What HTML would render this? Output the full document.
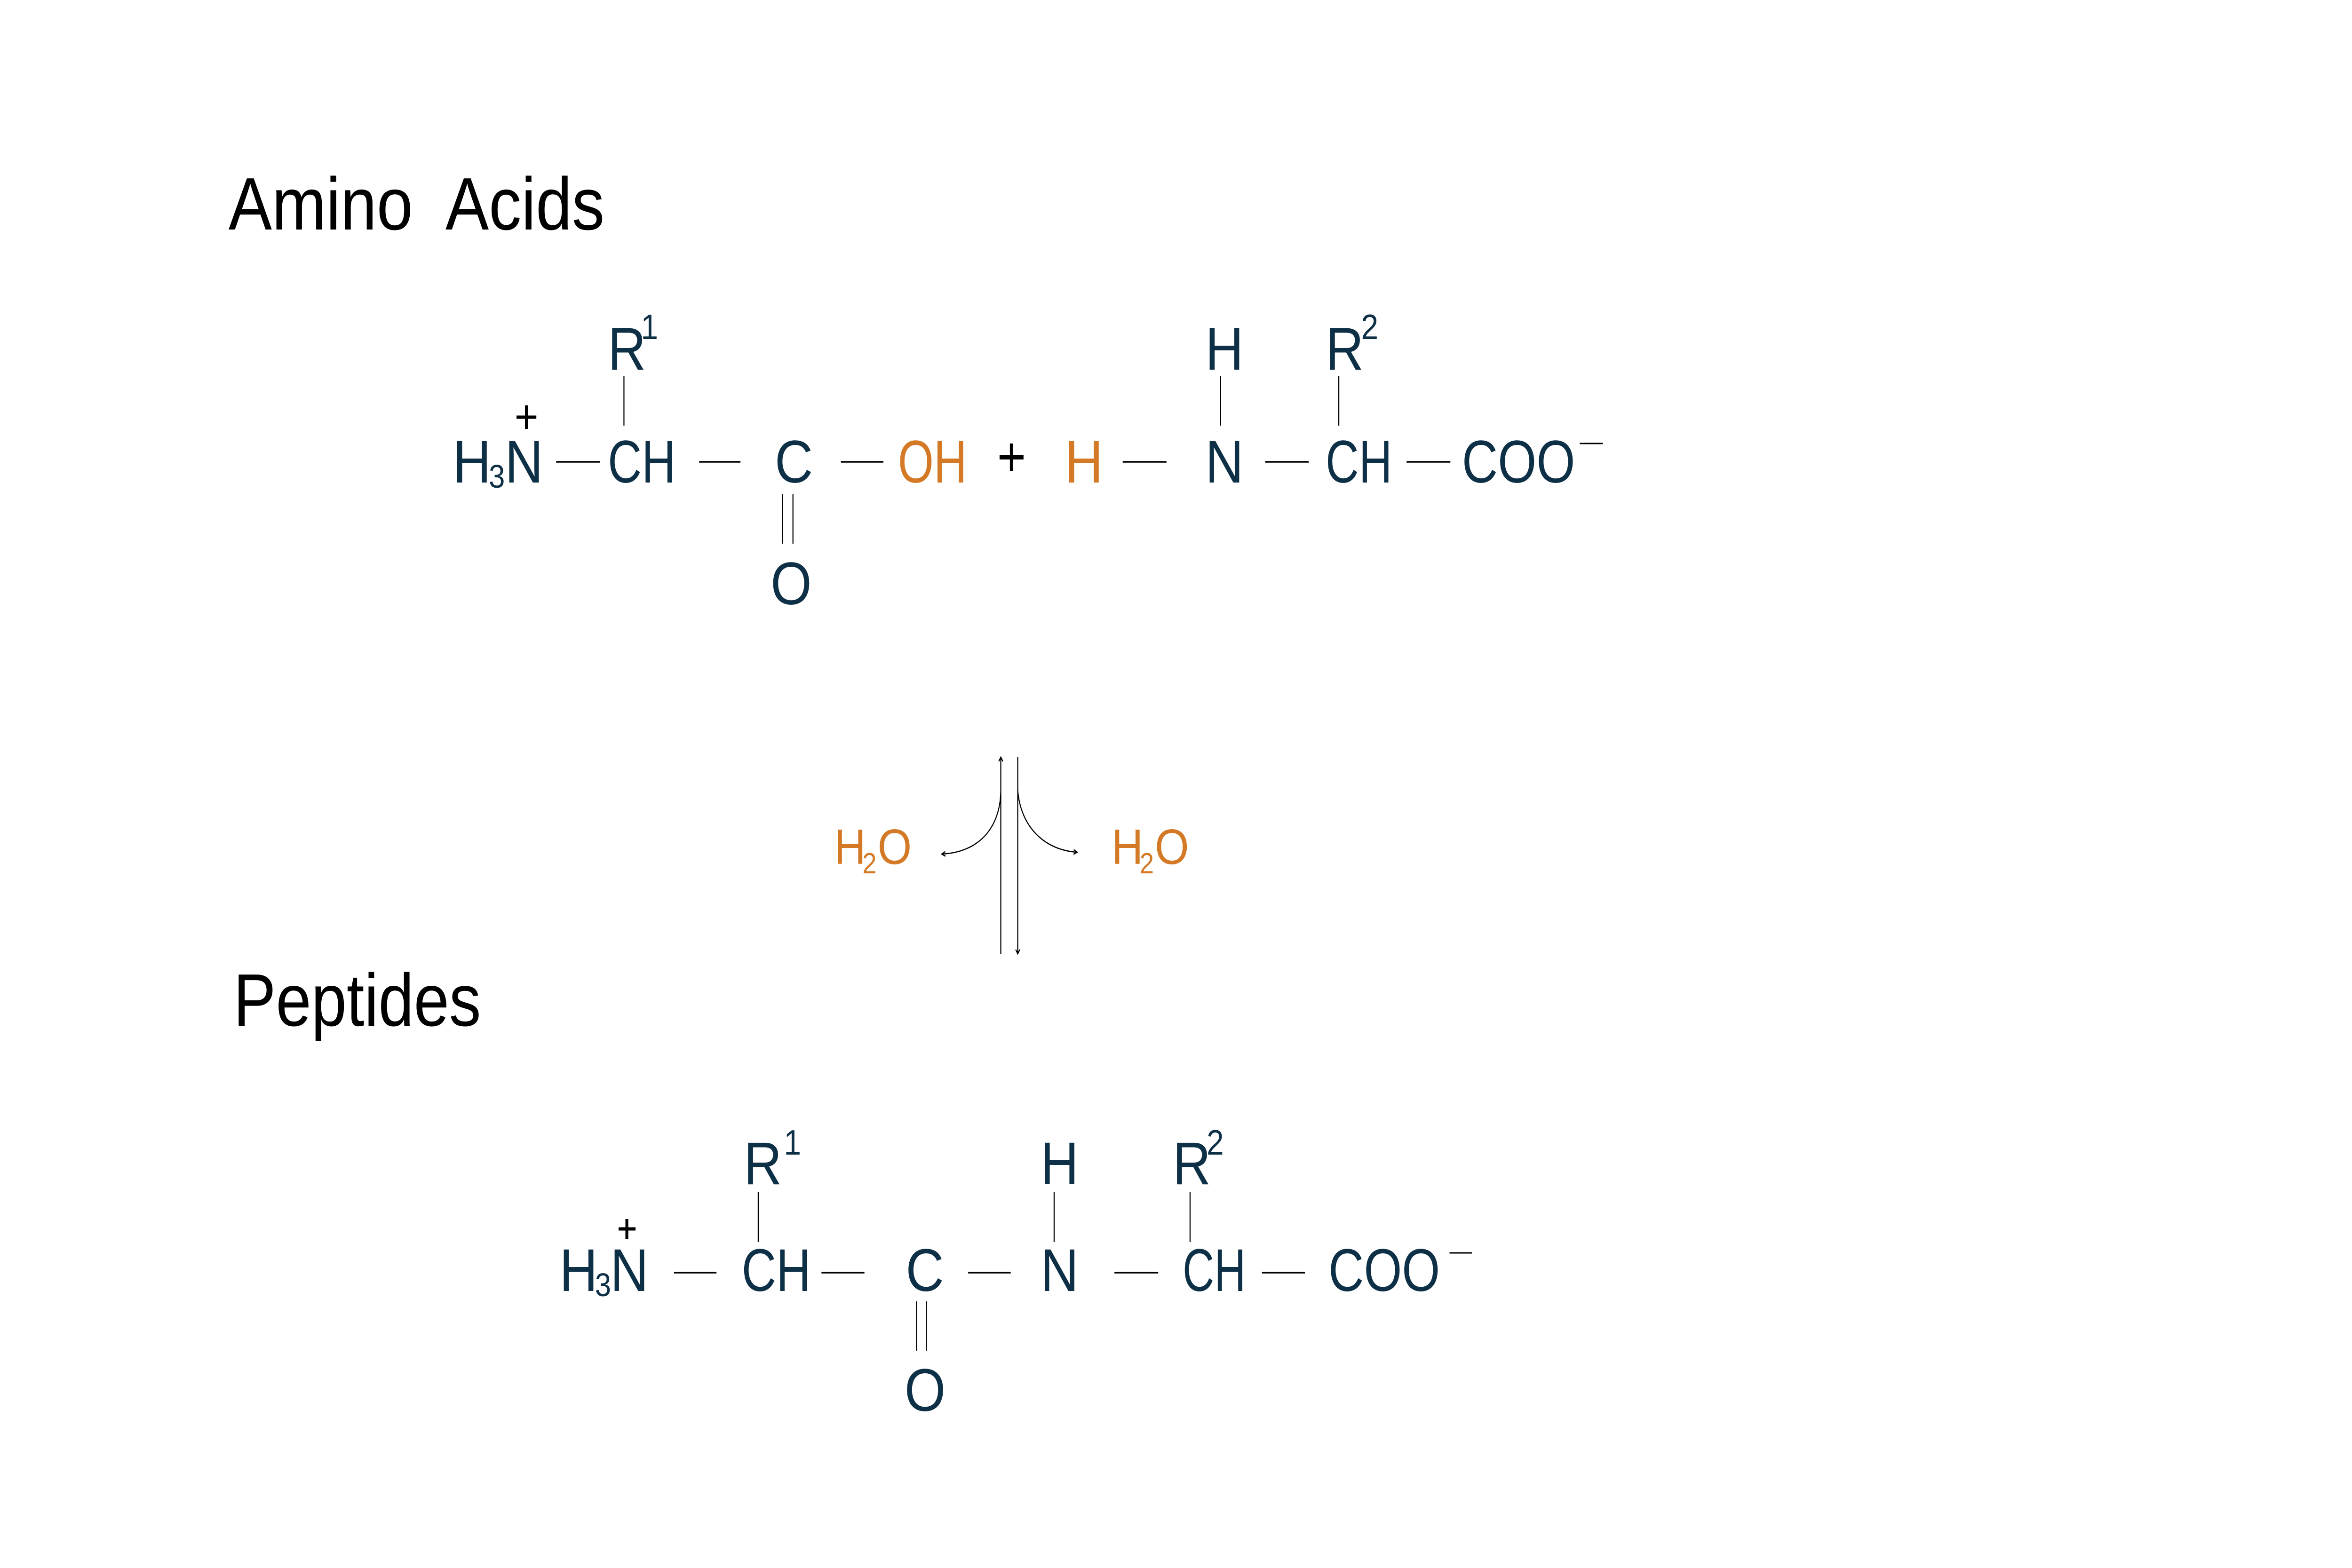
<!DOCTYPE html>
<html><head><meta charset="utf-8"><style>
html,body{margin:0;padding:0;background:#fff;overflow:hidden;width:100%;height:100%;}
svg{display:block;width:100vw;height:100vh;}
text{font-family:"Liberation Sans",Arial,sans-serif;}
</style></head><body>
<svg viewBox="0 0 5692 3334" preserveAspectRatio="none" xmlns="http://www.w3.org/2000/svg">
<rect width="5692" height="3334" fill="#fff"/>
<defs>
<marker id="ah" markerWidth="12" markerHeight="12" refX="10" refY="6" orient="auto" markerUnits="userSpaceOnUse">
<path d="M1,1 L10,6 L1,11" fill="none" stroke="#000" stroke-width="2.5"/>
</marker>
</defs>
<text x="553" y="488" font-size="158" fill="#000" textLength="910" lengthAdjust="spacingAndGlyphs" xml:space="preserve">Amino  Acids</text>
<text x="565" y="2181" font-size="158" fill="#000" textLength="599" lengthAdjust="spacingAndGlyphs">Peptides</text>

<g fill="#0d3047" font-size="128">
<text x="1096" y="1026">H</text>
<text x="1183" y="1037" font-size="70">3</text>
<text x="1222" y="1026">N</text>
<text x="1471" y="1026" textLength="164" lengthAdjust="spacingAndGlyphs">CH</text>
<text x="1875" y="1026">C</text>
<text x="2173" y="1026" fill="#d47a26" textLength="167" lengthAdjust="spacingAndGlyphs">OH</text>
<text x="2577" y="1026" fill="#d47a26">H</text>
<text x="2917" y="1026">N</text>
<text x="3208" y="1026" textLength="161" lengthAdjust="spacingAndGlyphs">CH</text>
<text x="3538" y="1026" textLength="274" lengthAdjust="spacingAndGlyphs">COO</text>
<text x="1471" y="786">R</text>
<text x="1551" y="721" font-size="75">1</text>
<text x="2917" y="786">H</text>
<text x="3208" y="786">R</text>
<text x="3294" y="721" font-size="75">2</text>
<text x="1865" y="1285">O</text>
<text x="1354" y="2745">H</text>
<text x="1440" y="2756" font-size="70">3</text>
<text x="1477" y="2745">N</text>
<text x="1795" y="2745" textLength="167" lengthAdjust="spacingAndGlyphs">CH</text>
<text x="2192" y="2745">C</text>
<text x="2518" y="2745">N</text>
<text x="2862" y="2745" textLength="153" lengthAdjust="spacingAndGlyphs">CH</text>
<text x="3215" y="2745" textLength="270" lengthAdjust="spacingAndGlyphs">COO</text>
<text x="1800" y="2518">R</text>
<text x="1897" y="2455" font-size="75">1</text>
<text x="2518" y="2518">H</text>
<text x="2838" y="2518">R</text>
<text x="2920" y="2455" font-size="75">2</text>
<text x="2189" y="3000">O</text>
</g>

<g fill="#d47a26">
<text x="2019" y="1837" font-size="106">H</text>
<text x="2087" y="1857" font-size="62">2</text>
<text x="2124" y="1837" font-size="106">O</text>
<text x="2690" y="1837" font-size="106">H</text>
<text x="2758" y="1857" font-size="62">2</text>
<text x="2795" y="1837" font-size="106">O</text>
</g>

<g stroke="#000" stroke-width="3.5" fill="none">
<path d="M1346 982H1452M1692 982H1792M2035 982H2138M2717 982H2823M3062 982H3167M3404 982H3510"/>
<path d="M3823 943H3879" stroke-width="3"/>
<path d="M1510 800V905M2954 800V905M3240 800V905M1894 1051V1156M1919 1051V1156" stroke-width="2.5"/>
<path d="M1250 887H1298M1274 862V912" stroke-width="7"/>
<path d="M2419 972H2477" stroke-width="10"/>
<path d="M2448 943V1001" stroke-width="8"/>
<path d="M1631 2706H1734M1988 2706H2092M2343 2706H2446M2697 2706H2803M3054 2706H3158"/>
<path d="M3508 2664H3562" stroke-width="3"/>
<path d="M1835 2535V2641M2551 2535V2641M2880 2535V2641M2218 2767V2872M2242 2767V2872" stroke-width="2.5"/>
<path d="M1497 2613H1538M1517 2592V2635" stroke-width="7"/>
<path d="M2422 2029V1610" stroke-width="2.5" marker-end="url(#ah)"/>
<path d="M2463 1609V2028" stroke-width="2.5" marker-end="url(#ah)"/>
<path d="M2422 1683C2420 1760 2370 1812 2279 1816" stroke-width="2.5" marker-end="url(#ah)"/>
<path d="M2463 1680C2470 1760 2530 1808 2607 1812" stroke-width="2.5" marker-end="url(#ah)"/>
</g>
</svg>
</body></html>
